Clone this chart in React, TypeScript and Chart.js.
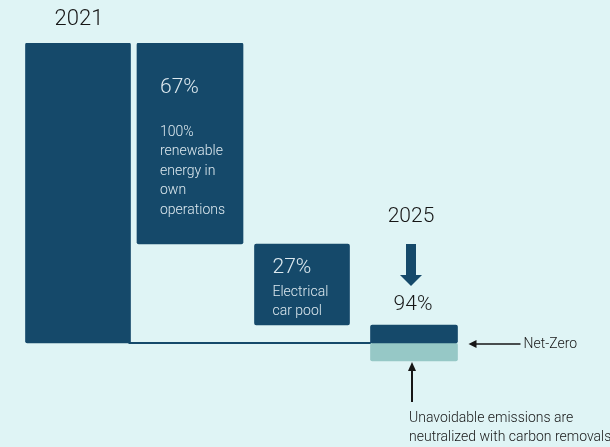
import React, { useEffect, useRef } from "react";
import { Chart, registerables } from "chart.js";

Chart.register(...registerables);

const categories = ["2021", "Renewable energy", "Electrical car pool", "2025"];
const barStart = [0, 33, 6, 0];
const barEnd = [100, 100, 33, 6];
const removalStart = [null, null, null, -6];
const removalEnd = [null, null, null, 0];
const stepLabels = ["2021", "67%", "27%", "94%"];
const renewableNote = ["100%", "renewable", "energy in", "own", "operations"];
const carNote = ["Electrical", "car pool"];
const targetYear = "2025";
const netZeroLabel = "Net-Zero";
const removalNote = ["Unavoidable emissions are", "neutralized with carbon removals"];
const yMin = -20;
const yMax = 100;

const DARK = "#15496a";
const LIGHT = "#96c8c6";
const BG = "#dff4f5";
const INK = "#161616";
const PALE = "#dde9ef";
const FONT = "Roboto, 'Liberation Sans', sans-serif";

const thicknesses = [105, 106, 95, 87];

export default function App() {
  const ref = useRef<HTMLCanvasElement | null>(null);

  useEffect(() => {
    const canvas = ref.current;
    if (!canvas) return;

    const stepSets = categories.map((_, i) => ({
      label: categories[i],
      data: categories.map((__, j) => (j === i ? [barStart[i], barEnd[i]] : null)),
      backgroundColor: DARK,
      borderRadius: 2,
      borderSkipped: false,
      barThickness: thicknesses[i],
      grouped: false,
    }));
    const removalSet = {
      label: "Removals",
      data: categories.map((_, j) =>
        removalStart[j] === null ? null : [removalStart[j], removalEnd[j]]
      ),
      backgroundColor: LIGHT,
      borderRadius: 2,
      borderSkipped: false,
      barThickness: thicknesses[3],
      grouped: false,
    };

    const annotate = {
      id: "annotate",
      beforeDatasetsDraw(chart: any) {
        const ctx = chart.ctx;
        const y = chart.scales.y;
        const b0 = chart.getDatasetMeta(0).data[0];
        const b3 = chart.getDatasetMeta(3).data[3];
        const zeroY = y.getPixelForValue(0);
        ctx.save();
        ctx.strokeStyle = DARK;
        ctx.lineWidth = 2;
        ctx.beginPath();
        ctx.moveTo(b0.x + b0.width / 2 - 2, zeroY);
        ctx.lineTo(b3.x - b3.width / 2 + 2, zeroY);
        ctx.stroke();
        ctx.restore();
      },
      afterDatasetsDraw(chart: any) {
        const ctx = chart.ctx;
        const y = chart.scales.y;
        const bars = [0, 1, 2, 3].map((i) => chart.getDatasetMeta(i).data[i]);
        ctx.save();
        ctx.textBaseline = "middle";

        // 2021
        ctx.fillStyle = INK;
        ctx.textAlign = "center";
        ctx.font = `300 22px ${FONT}`;
        ctx.fillText(stepLabels[0], bars[0].x + 1, y.getPixelForValue(100) - 24);

        // bar 2 texts
        const l1 = bars[1].x - bars[1].width / 2 + 23;
        ctx.textAlign = "left";
        ctx.fillStyle = PALE;
        ctx.font = `300 21px ${FONT}`;
        ctx.fillText(stepLabels[1], l1, bars[1].y + 45);
        ctx.font = `300 14px ${FONT}`;
        renewableNote.forEach((t, k) => ctx.fillText(t, l1, bars[1].y + 89 + k * 19.5));

        // bar 3 texts
        const l2 = bars[2].x - bars[2].width / 2 + 18;
        ctx.font = `300 21px ${FONT}`;
        ctx.fillText(stepLabels[2], l2, bars[2].y + 24);
        ctx.font = `300 14px ${FONT}`;
        carNote.forEach((t, k) => ctx.fillText(t, l2, bars[2].y + 48 + k * 19.5));

        // 2025 + arrow + 94%
        const cx = bars[3].x - 3;
        const top = bars[3].y;
        ctx.fillStyle = INK;
        ctx.textAlign = "center";
        ctx.font = `300 21px ${FONT}`;
        ctx.fillText(targetYear, cx, top - 108);
        ctx.fillText(stepLabels[3], cx + 2, top - 20);
        ctx.fillStyle = DARK;
        ctx.fillRect(cx - 5, top - 81, 10, 32);
        ctx.beginPath();
        ctx.moveTo(cx - 11, top - 50);
        ctx.lineTo(cx + 11, top - 50);
        ctx.lineTo(cx, top - 39);
        ctx.closePath();
        ctx.fill();

        // Net-Zero arrow
        const zeroY = y.getPixelForValue(0) + 1;
        const right = bars[3].x + bars[3].width / 2;
        ctx.strokeStyle = INK;
        ctx.fillStyle = INK;
        ctx.lineWidth = 1.5;
        ctx.beginPath();
        ctx.moveTo(right + 16, zeroY);
        ctx.lineTo(right + 63, zeroY);
        ctx.stroke();
        ctx.beginPath();
        ctx.moveTo(right + 11, zeroY);
        ctx.lineTo(right + 19, zeroY - 4);
        ctx.lineTo(right + 19, zeroY + 4);
        ctx.closePath();
        ctx.fill();
        ctx.textAlign = "left";
        ctx.font = `300 14px ${FONT}`;
        ctx.fillText(netZeroLabel, right + 66, zeroY);

        // Up arrow + removal note
        const bottom = y.getPixelForValue(-6);
        const ax = bars[3].x - 2;
        ctx.lineWidth = 2;
        ctx.beginPath();
        ctx.moveTo(ax, bottom + 8);
        ctx.lineTo(ax, bottom + 41);
        ctx.stroke();
        ctx.beginPath();
        ctx.moveTo(ax, bottom + 1);
        ctx.lineTo(ax - 4, bottom + 10);
        ctx.lineTo(ax + 4, bottom + 10);
        ctx.closePath();
        ctx.fill();
        ctx.font = `300 14px ${FONT}`;
        removalNote.forEach((t, k) => ctx.fillText(t, ax - 3, bottom + 57 + k * 19));

        ctx.restore();
      },
    };

    const chart = new Chart(canvas, {
      type: "bar",
      data: { labels: categories, datasets: [...stepSets, removalSet] as any },
      options: {
        animation: false,
        responsive: false,
        maintainAspectRatio: false,
        layout: { padding: { left: 22, right: 140, top: 43, bottom: 44 } },
        plugins: { legend: { display: false }, tooltip: { enabled: false } },
        scales: {
          x: { display: false, grid: { display: false } },
          y: { display: false, min: yMin, max: yMax, grid: { display: false } },
        },
      },
      plugins: [annotate],
    });
    return () => chart.destroy();
  }, []);

  return (
    <div style={{ position: "fixed", left: 0, top: 0, width: 610, height: 447, background: BG }}>
      <canvas ref={ref} width={610} height={447} style={{ display: "block" }} />
    </div>
  );
}
